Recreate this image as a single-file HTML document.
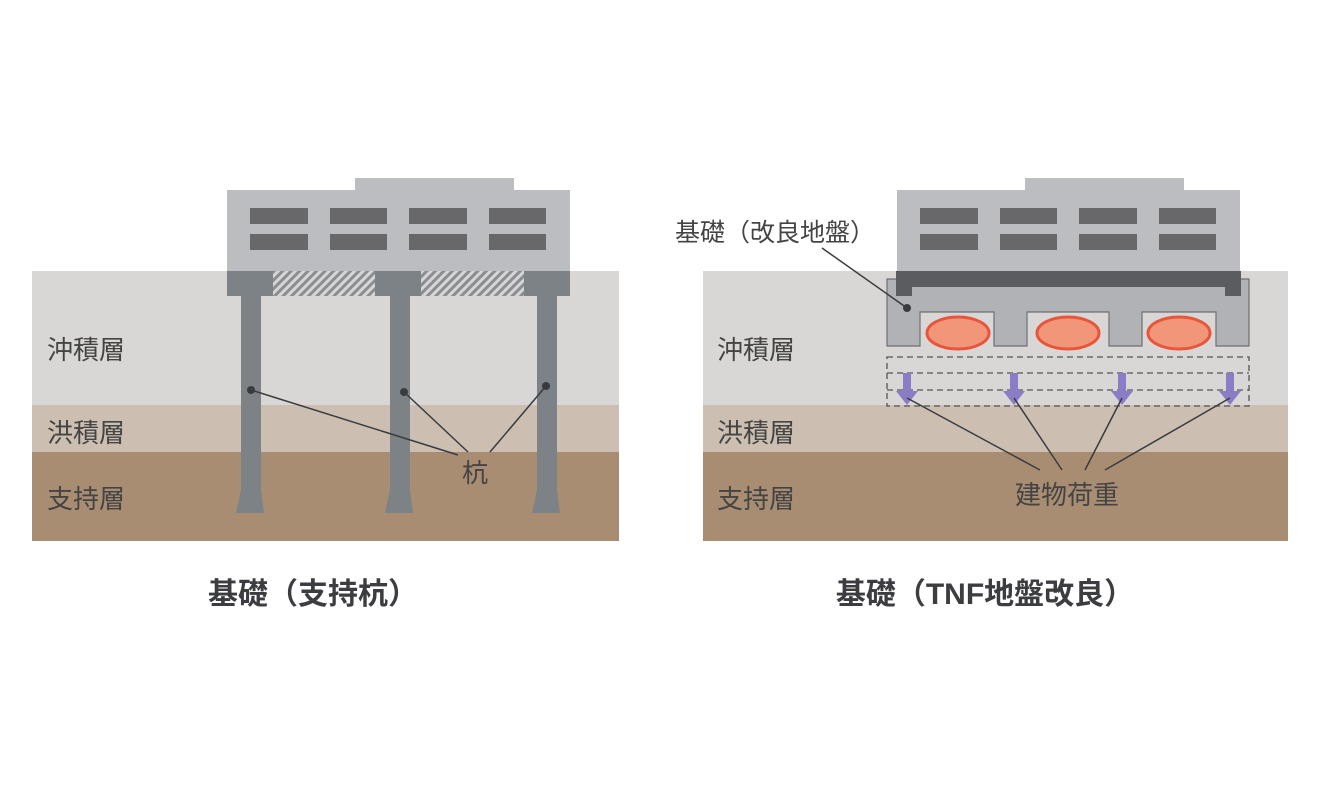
<!DOCTYPE html>
<html><head><meta charset="utf-8"><style>
html,body{margin:0;padding:0;background:#fff;}
svg{display:block}
text{font-family:"Liberation Sans","Noto Sans CJK JP",sans-serif;}
</style></head><body>
<svg width="1321" height="798" viewBox="0 0 1321 798" xmlns="http://www.w3.org/2000/svg">
<defs>
<pattern id="hatch" width="6" height="6" patternUnits="userSpaceOnUse" patternTransform="rotate(45)">
<rect width="6" height="6" fill="#d6d6d6"/><rect width="3" height="6" fill="#8a8d92"/>
</pattern>
</defs>
<!-- LEFT -->
<rect x="32" y="271" width="587" height="134" fill="#d9d7d5"/>
<rect x="32" y="405" width="587" height="47" fill="#ccbfb2"/>
<rect x="32" y="452" width="587" height="89" fill="#a88d72"/>
<rect x="355" y="178" width="159" height="14" fill="#bcbdc0"/>
<rect x="227" y="190" width="343" height="81" fill="#bcbdc0"/>
<g fill="#68686b">
<rect x="250" y="208" width="58" height="16"/><rect x="330" y="208" width="57" height="16"/><rect x="409" y="208" width="58" height="16"/><rect x="489" y="208" width="57" height="16"/>
<rect x="250" y="234" width="58" height="16"/><rect x="330" y="234" width="57" height="16"/><rect x="409" y="234" width="58" height="16"/><rect x="489" y="234" width="57" height="16"/>
</g>
<rect x="273" y="271" width="102" height="25" fill="url(#hatch)"/>
<rect x="421" y="271" width="103" height="25" fill="url(#hatch)"/>
<g fill="#7d8287">
<rect x="227" y="271" width="46" height="25"/><rect x="375" y="271" width="46" height="25"/><rect x="524" y="271" width="46" height="25"/>
<path d="M241 296 H261 V490 L264 513 H236 L241 490Z"/>
<path d="M390 296 H410 V490 L413 513 H385 L390 490Z"/>
<path d="M537 296 H557 V490 L560 513 H532 L537 490Z"/>
</g>
<g stroke="#3a3b3e" stroke-width="1.5" fill="none">
<line x1="251" y1="390" x2="458" y2="455"/>
<line x1="404" y1="392" x2="468" y2="452"/>
<line x1="546" y1="386" x2="490" y2="452"/>
</g>
<g fill="#3a3b3e"><circle cx="251" cy="390" r="4"/><circle cx="404" cy="392" r="4"/><circle cx="546" cy="386" r="4"/></g>
<g font-size="26" fill="#444">
<text x="47" y="359">沖積層</text><text x="47" y="442">洪積層</text><text x="47" y="508">支持層</text>
<text x="462" y="482">杭</text>
</g>
<text x="313" y="604" font-size="30" font-weight="bold" fill="#3c3d40" text-anchor="middle">基礎（支持杭）</text>

<!-- RIGHT -->
<rect x="703" y="271" width="585" height="134" fill="#d9d7d5"/>
<rect x="703" y="405" width="585" height="47" fill="#ccbfb2"/>
<rect x="703" y="452" width="585" height="89" fill="#a88d72"/>
<rect x="1025" y="178" width="159" height="14" fill="#bcbdc0"/>
<rect x="897" y="190" width="343" height="81" fill="#bcbdc0"/>
<g fill="#68686b">
<rect x="920" y="208" width="58" height="16"/><rect x="1000" y="208" width="57" height="16"/><rect x="1079" y="208" width="58" height="16"/><rect x="1159" y="208" width="57" height="16"/>
<rect x="920" y="234" width="58" height="16"/><rect x="1000" y="234" width="57" height="16"/><rect x="1079" y="234" width="58" height="16"/><rect x="1159" y="234" width="57" height="16"/>
</g>
<path d="M887 279 H1249 V346 H1216 V312 H1142 V346 H1109 V312 H1027 V346 H994 V312 H920 V346 H887Z" fill="#b0b2b6" stroke="#6e7075" stroke-width="1.2"/>
<path d="M896 271 H1241 V296 H1225 V287 H912 V296 H896Z" fill="#5a5c60"/>
<g fill="#f2967a" stroke="#e9553a" stroke-width="3">
<ellipse cx="958" cy="333" rx="31" ry="16"/>
<ellipse cx="1068" cy="333" rx="31" ry="16"/>
<ellipse cx="1179" cy="333" rx="31" ry="16"/>
</g>
<g stroke="#555" stroke-width="1.3" stroke-dasharray="6,4" fill="none">
<rect x="887" y="357" width="362" height="49"/>
<line x1="887" y1="373" x2="1249" y2="373"/>
<line x1="887" y1="390" x2="1249" y2="390"/>
</g>
<g fill="#8a7dc6">
<path d="M903 373 H911 V391 H918 L907 405 L896 391 H903Z"/>
<path d="M1010 373 H1018 V391 H1025 L1014 405 L1003 391 H1010Z"/>
<path d="M1118 373 H1126 V391 H1133 L1122 405 L1111 391 H1118Z"/>
<path d="M1226 373 H1234 V391 H1241 L1230 405 L1219 391 H1226Z"/>
</g>
<g stroke="#3a3b3e" stroke-width="1.5" fill="none">
<line x1="907" y1="398" x2="1040" y2="470"/>
<line x1="1014" y1="398" x2="1062" y2="470"/>
<line x1="1122" y1="398" x2="1085" y2="470"/>
<line x1="1230" y1="398" x2="1105" y2="470"/>
<line x1="822" y1="248" x2="907" y2="308"/>
</g>
<circle cx="907" cy="308" r="4" fill="#3a3b3e"/>
<g font-size="26" fill="#444">
<text x="717" y="359">沖積層</text><text x="717" y="442">洪積層</text><text x="717" y="508">支持層</text>
<text x="1067" y="504" text-anchor="middle">建物荷重</text>
</g>
<text x="675" y="241" font-size="25" fill="#444">基礎（改良地盤）</text>
<text x="985" y="604" font-size="30" font-weight="bold" fill="#3c3d40" text-anchor="middle">基礎（TNF地盤改良）</text>
</svg>
</body></html>
